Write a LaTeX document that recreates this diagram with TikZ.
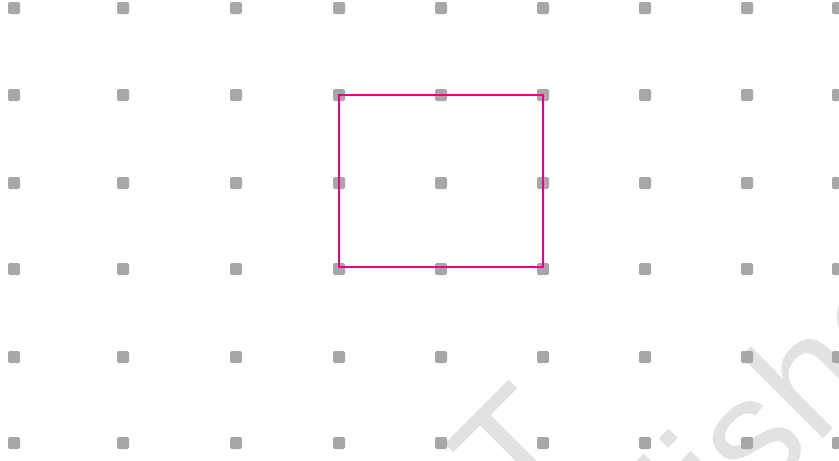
\documentclass[tikz,border=0pt]{standalone}
\usepackage{fontspec}
\newfontfamily\wmfont{Liberation Sans}
\definecolor{dotgray}{HTML}{A5A7A9}
\definecolor{rectmag}{HTML}{E6008C}
\definecolor{wmgray}{HTML}{E2E2E2}
\tikzset{
  griddot/.style={fill=dotgray, rounded corners=2pt},
  shapeline/.style={draw=rectmag, line width=2pt},
  watermark/.style={text=wmgray, rotate=45, inner sep=0pt, font=\wmfont\fontsize{160}{160}\selectfont}
}
\begin{document}
\begin{tikzpicture}[x=1pt,y=-1pt]
\useasboundingbox (0,0) rectangle (839,461);
\clip (0,0) rectangle (839,461);
\fill[white] (0,0) rectangle (839,461);
% watermark
\node[watermark, anchor=base east] (wm1) at (590,455) {© NCERT};
\node[watermark, anchor=base west] (wm2) at (419,843) {republished};
% dot grid
\foreach \x in {14,123,236,339,441,543,645,747,838}{
  \foreach \y in {8,95,183,269,357,443}{
    \fill[griddot] (\x-6,\y-6) rectangle (\x+6,\y+6);
  }
}
% rectangle
\coordinate (A) at (339,95);
\coordinate (C) at (543,267);
\draw[shapeline] (A) rectangle (C);
\end{tikzpicture}
\end{document}
